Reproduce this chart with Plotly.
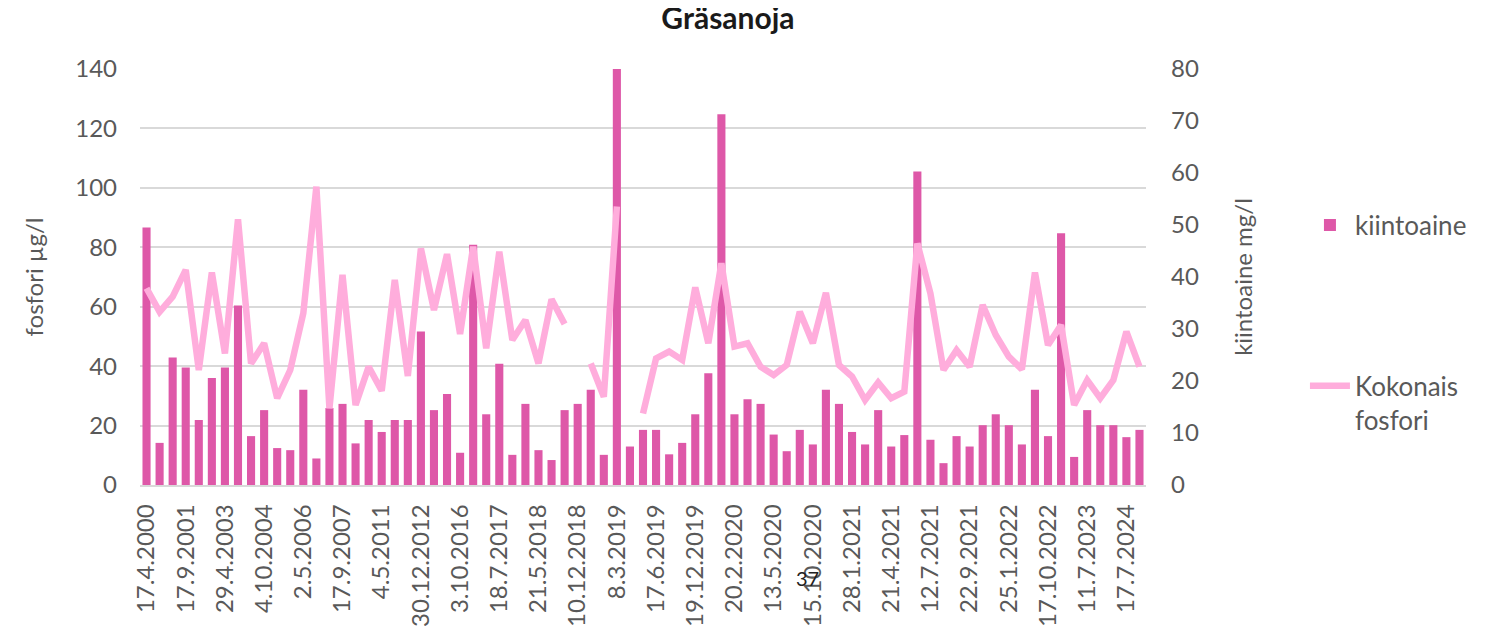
import plotly.graph_objects as go

# ---- data ----
tick_labels = ["17.4.2000", "17.9.2001", "29.4.2003", "4.10.2004", "2.5.2006", "17.9.2007",
               "4.5.2011", "30.12.2012", "3.10.2016", "18.7.2017", "21.5.2018", "10.12.2018",
               "8.3.2019", "17.6.2019", "19.12.2019", "20.2.2020", "13.5.2020", "15.10.2020",
               "28.1.2021", "21.4.2021", "12.7.2021", "22.9.2021", "25.1.2022", "17.10.2022",
               "11.7.2023", "17.7.2024"]

kiintoaine = [49.5, 8.1, 24.5, 22.6, 12.5, 20.6, 22.6, 34.5, 9.4, 14.4,
              7.1, 6.7, 18.3, 5.1, 14.8, 15.6, 8.0, 12.5, 10.2, 12.5,
              12.5, 29.5, 14.4, 17.5, 6.2, 46.2, 13.6, 23.3, 5.8, 15.6,
              6.7, 4.8, 14.4, 15.6, 18.3, 5.8, 80.0, 7.4, 10.6, 10.6,
              5.9, 8.1, 13.6, 21.5, 71.3, 13.6, 16.5, 15.6, 9.7, 6.5,
              10.6, 7.8, 18.3, 15.6, 10.2, 7.8, 14.4, 7.4, 9.6, 60.3,
              8.7, 4.2, 9.4, 7.4, 11.5, 13.6, 11.5, 7.8, 18.3, 9.4,
              48.4, 5.4, 14.4, 11.5, 11.5, 9.2, 10.6]

kokonais_fosfori = [66.2, 58.3, 63.4, 72.4, 38.7, 71.5, 44.3, 89.4, 40.9, 47.7,
                    29.2, 38.7, 57.8, 100.4, 25.8, 70.7, 26.9, 39.8, 31.7, 69.0,
                    36.7, 79.6, 58.9, 77.7, 50.8, 80.2, 46.0, 78.5, 48.8, 55.5,
                    40.9, 62.5, 54.2, None, 40.9, 29.7, 93.7, None, 24.1, 42.6,
                    44.9, 42.1, 66.5, 47.7, 74.6, 46.6, 47.7, 39.8, 37.0, 40.4,
                    58.3, 47.7, 64.7, 40.4, 36.5, 28.6, 34.5, 29.2, 31.4, 81.3,
                    64.5, 38.7, 45.4, 39.8, 60.6, 50.5, 43.2, 38.9, 71.5, 47.1,
                    53.8, 26.9, 35.3, 29.2, 35.3, 51.6, 39.8]

x_idx = list(range(len(kiintoaine)))
tick_idx = list(range(0, len(tick_labels) * 3, 3))

FONT = "Lato"
GRAY = "#595959"

fig = go.Figure()
fig.add_trace(go.Bar(
    x=x_idx, y=kiintoaine, name="kiintoaine", yaxis="y",
    marker=dict(color="#DE58A8", line=dict(width=0)),
    legend="legend", showlegend=True,
))
fig.add_trace(go.Scatter(
    x=x_idx, y=kokonais_fosfori, name="Kokonais<br>fosfori", yaxis="y2",
    mode="lines", connectgaps=False,
    line=dict(color="#FFADDC", width=6.5, shape="linear"),
    legend="legend2", showlegend=True,
))

fig.update_layout(
    width=1486, height=627,
    margin=dict(l=132, r=348, t=61, b=150, autoexpand=False),
    showlegend=True,
    paper_bgcolor="white", plot_bgcolor="white",
    font=dict(family=FONT, size=24, color=GRAY),
    bargap=0.38,
    title=dict(text="<b>Gräsanoja</b>", x=0.4845, xref="container", xanchor="center",
               y=1.0, yref="container", yanchor="top", automargin=False,
               pad=dict(t=0, b=0, l=0, r=0),
               font=dict(family=FONT, size=30, color="#1a1a1a")),
    xaxis=dict(range=[-0.5, len(kiintoaine) - 0.5], tickmode="array",
               tickvals=tick_idx, ticktext=tick_labels, tickangle=-90, automargin=False,
               showgrid=False, showline=True, linecolor="#D9D9D9", linewidth=1.5,
               ticks="", ticklabelstandoff=8, tickfont=dict(size=24, color=GRAY)),
    yaxis=dict(side="right", range=[0, 80], dtick=10, showgrid=False, zeroline=False,
               ticks="", ticklabelstandoff=24, automargin=False,
               title=dict(text="kiintoaine mg/l", standoff=37, font=dict(size=24, color=GRAY))),
    yaxis2=dict(side="left", overlaying="y", range=[0, 140], dtick=20, automargin=False,
                showgrid=True, gridcolor="#D9D9D9", gridwidth=1.5, zeroline=False,
                ticks="", ticklabelstandoff=22,
                title=dict(text="fosfori µg/l", standoff=24, font=dict(size=24, color=GRAY))),
    legend=dict(x=1.158, y=0.625, xanchor="left", yanchor="middle",
                font=dict(size=26, color=GRAY), bgcolor="rgba(0,0,0,0)", itemwidth=40),
    legend2=dict(x=1.158, y=0.295, xanchor="left", yanchor="top", valign="top",
                 font=dict(size=26, color=GRAY), bgcolor="rgba(0,0,0,0)", itemwidth=40),
    annotations=[dict(text="37", x=0.664, y=-0.258, xref="paper", yref="paper",
                      showarrow=False, font=dict(family=FONT, size=20, color="#222222"))],
)

fig.write_html("out.html")
